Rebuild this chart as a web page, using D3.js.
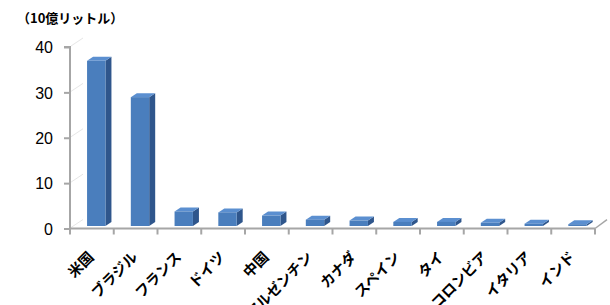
<!DOCTYPE html>
<html><head><meta charset="utf-8">
<script src="https://cdn.jsdelivr.net/npm/d3@7"></script>
<style>html,body{margin:0;padding:0;background:#fff;}svg{display:block;}</style>
</head><body>
<svg id="chart" width="610" height="305"></svg>
<script>
const categories = ["米国","ブラジル","フランス","ドイツ","中国","アルゼンチン","カナダ","スペイン","タイ","コロンビア","イタリア","インド"];
const values = [36.4, 28.4, 3.2, 3.0, 2.3, 1.4, 1.2, 0.9, 0.9, 0.7, 0.5, 0.4];
const yTicks = [0, 10, 20, 30, 40];
const unitLabel = "（10億リットル）";

const svg = d3.select("#chart");
const x = d3.scaleBand().domain(categories).range([70, 595]).padding(0);
const y = d3.scaleLinear().domain([0, 40]).range([228.5, 47]);
const bw = x.bandwidth();
const dx = 6, dy = 4, shift = 2.5;

// faint wall edges
svg.append("g").selectAll("line").data(yTicks).join("line")
  .attr("x1", 71).attr("x2", 71 + dx * 2)
  .attr("y1", d => y(d) - 1).attr("y2", d => y(d) - 1 - dy * 2)
  .attr("stroke", "#e6e6e6").attr("stroke-width", 1);

// y axis
const yAxis = d3.axisLeft(y).tickValues(yTicks).tickSize(6).tickPadding(11).tickFormat(d3.format("d"));
const gy = svg.append("g").attr("transform", "translate(70,0)").call(yAxis);
gy.select(".domain").attr("stroke", "#a6a6a6").attr("stroke-width", 2).attr("d", `M-6,${y(40)}H0V${y(0)}`);
gy.selectAll(".tick line").attr("stroke", "#a6a6a6").attr("stroke-width", 2);
gy.selectAll(".tick text").attr("font-family", "Liberation Sans, Arial, sans-serif")
  .attr("font-size", 16).attr("fill", "#000").attr("dy", "0.36em");

// x axis
const gx = svg.append("g").attr("transform", `translate(0,${y(0)})`);
gx.append("line").attr("x1", 70).attr("x2", 595).attr("y1", 0).attr("y2", 0)
  .attr("stroke", "#a6a6a6").attr("stroke-width", 2);
const bounds = categories.map(c => x(c)).concat([x.range()[1]]);
gx.selectAll("line.tk").data(bounds).join("line").attr("class", "tk")
  .attr("x1", d => d).attr("x2", d => d).attr("y1", 0).attr("y2", 6)
  .attr("stroke", "#a6a6a6").attr("stroke-width", 2);
// floor edge at right
gx.append("line").attr("x1", 595).attr("y1", 0).attr("x2", 595 + dx * 2).attr("y2", -dy * 2.2)
  .attr("stroke", "#a6a6a6").attr("stroke-width", 1.5);

// x labels
svg.append("g").selectAll("text").data(categories).join("text")
  .attr("transform", c => `translate(${x(c) + bw / 2 + 3},${258}) rotate(-45)`)
  .attr("text-anchor", "end")
  .attr("font-family", "Noto Sans CJK JP, sans-serif").attr("font-weight", "bold")
  .attr("font-size", 14.5).attr("fill", "#000")
  .text(c => c);

// bars (3D)
const data = categories.map((c, i) => ({ c, v: values[i] }));
const bars = svg.append("g").selectAll("g").data(data).join("g");
bars.each(function (d) {
  const g = d3.select(this);
  const x0 = x(d.c) + bw * 0.39, w = bw * 0.42;
  const yb = y(0) - shift, yt = y(d.v) - shift;
  g.append("path").attr("d", `M${x0 + w},${yt}L${x0 + w + dx},${yt - dy}L${x0 + w + dx},${yb - dy}L${x0 + w},${yb}Z`)
    .attr("fill", "#2f568c");
  g.append("path").attr("d", `M${x0},${yt}L${x0 + dx},${yt - dy}L${x0 + w + dx},${yt - dy}L${x0 + w},${yt}Z`)
    .attr("fill", "#5b8fd0");
  g.append("rect").attr("x", x0).attr("y", yt).attr("width", w).attr("height", yb - yt)
    .attr("fill", "#4a7ebd");
});

// unit label
svg.append("text").attr("x", 17).attr("y", 23)
  .attr("font-family", "Noto Sans CJK JP, sans-serif").attr("font-weight", "bold")
  .attr("font-size", 13).attr("fill", "#000").text(unitLabel);
</script>
</body></html>
